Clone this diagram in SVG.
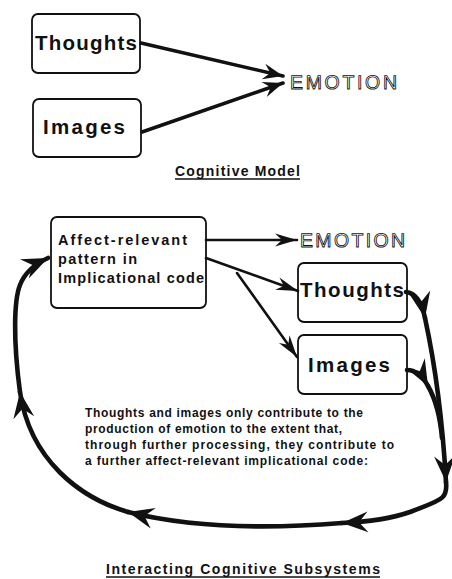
<svg xmlns="http://www.w3.org/2000/svg" width="452" height="579" viewBox="0 0 452 579">
  <style>
    .box { fill: #fff; stroke: #111; stroke-width: 1.8; }
    .lbl { font-family: "Liberation Sans", Arial, sans-serif; font-weight: bold; fill: #111; }
    .big { font-size: 20.5px; }
    .mid { font-size: 14.5px; }
    .small { font-size: 12px; }
    .title { font-size: 14px; }
    .emo { font-family: "Liberation Sans", Arial, sans-serif; font-size: 19.5px; fill: #fff; stroke: #111; stroke-width: 0.85; text-rendering: geometricPrecision; }
    .thick { fill: none; stroke: #111; stroke-width: 3.6; stroke-linecap: round; }
    .thin { fill: none; stroke: #111; stroke-width: 2.6; stroke-linecap: round; }
    .loop { fill: none; stroke: #111; stroke-width: 4.6; stroke-linecap: round; }
    .ul { stroke: #111; stroke-width: 1.4; }
  </style>
  <defs>
    <marker id="barb" markerUnits="userSpaceOnUse" viewBox="-22 -10 23 20" refX="0" refY="0" markerWidth="23" markerHeight="20" orient="auto">
      <path d="M0,0 L-20,-8 L-13,0 L-20,8 Z" fill="#111"/>
    </marker>
    <marker id="barbThin" markerUnits="userSpaceOnUse" viewBox="-24 -8 25 16" refX="0" refY="0" markerWidth="25" markerHeight="16" orient="auto">
      <path d="M0,0 L-22,-6.5 L-15,0 L-22,6.5 Z" fill="#111"/>
    </marker>
    <marker id="barbLoop" markerUnits="userSpaceOnUse" viewBox="-28 -12 29 24" refX="0" refY="0" markerWidth="29" markerHeight="24" orient="auto">
      <path d="M0,0 L-26,-10.5 L-17,0 L-26,10.5 Z" fill="#111"/>
    </marker>
  </defs>

  <!-- Cognitive Model -->
  <g id="thoughts-top">
    <rect class="box" x="32" y="14" width="108" height="59" rx="6"/>
    <text class="lbl big" x="35" y="50" textLength="102" lengthAdjust="spacing">Thoughts</text>
  </g>
  <g id="images-top">
    <rect class="box" x="33" y="99" width="108" height="58" rx="6"/>
    <text class="lbl big" x="43" y="134" textLength="82" lengthAdjust="spacing">Images</text>
  </g>
  <g id="emotion-top">
    <text class="emo" x="290" y="89" textLength="107" lengthAdjust="spacing">EMOTION</text>
  </g>
  <g id="caption-top">
    <text class="lbl title" x="175" y="176" textLength="125" lengthAdjust="spacing">Cognitive Model</text>
    <line class="ul" x1="175" y1="179" x2="300" y2="179"/>
  </g>

  <!-- Interacting Cognitive Subsystems -->
  <g id="affect">
    <rect class="box" x="51" y="217" width="155" height="91" rx="6"/>
    <text class="lbl mid" x="58" y="245" textLength="129" lengthAdjust="spacing">Affect-relevant</text>
    <text class="lbl mid" x="58" y="264" textLength="79" lengthAdjust="spacing">pattern in</text>
    <text class="lbl mid" x="58" y="283" textLength="146" lengthAdjust="spacing">Implicational code</text>
  </g>
  <g id="emotion-bottom">
    <text class="emo" x="300" y="247" textLength="105" lengthAdjust="spacing">EMOTION</text>
  </g>
  <g id="thoughts-bottom">
    <rect class="box" x="298" y="263" width="109" height="59" rx="6"/>
    <text class="lbl big" x="300" y="297" textLength="104" lengthAdjust="spacing">Thoughts</text>
  </g>
  <g id="images-bottom">
    <rect class="box" x="298" y="335" width="109" height="59" rx="6"/>
    <text class="lbl big" x="308" y="372" textLength="82" lengthAdjust="spacing">Images</text>
  </g>
  <g id="note">
    <text class="lbl small" x="85" y="417" textLength="278" lengthAdjust="spacing">Thoughts and images only contribute to the</text>
    <text class="lbl small" x="85" y="433" textLength="257" lengthAdjust="spacing">production of emotion to the extent that,</text>
    <text class="lbl small" x="85" y="449" textLength="309" lengthAdjust="spacing">through further processing, they contribute to</text>
    <text class="lbl small" x="85" y="465" textLength="283" lengthAdjust="spacing">a further affect-relevant implicational code:</text>
  </g>
  <g id="caption-bottom">
    <text class="lbl title" x="106" y="574" textLength="274" lengthAdjust="spacing">Interacting Cognitive Subsystems</text>
    <line class="ul" x1="106" y1="577" x2="380" y2="577"/>
  </g>

  <g id="connectors">
    <!-- upper model -->
    <path class="thick" d="M141,43 L283,76" marker-end="url(#barb)"/>
    <path class="thick" d="M142,132 L283,83" marker-end="url(#barb)"/>
    <!-- implicational code outputs -->
    <path class="thin" d="M206,240 L297,240" marker-end="url(#barbThin)"/>
    <path class="thin" d="M206,258 L298,291" marker-end="url(#barbThin)"/>
    <path class="thin" d="M237,273 L297,357" marker-end="url(#barbThin)"/>
    <!-- feedback loop -->
    <path class="loop" d="M406,292 C416,293 422,303 425,318" marker-end="url(#barbLoop)"/>
    <path class="loop" d="M425,318 C433,355 442,410 446,482" marker-end="url(#barbLoop)"/>
    <path class="loop" d="M407,370 C415,370 422,375 428,386" marker-end="url(#barbLoop)"/>
    <path class="loop" d="M428,386 C436,400 440,415 442,438"/>
    <path class="loop" d="M446,482 C448,500 440,500 410,512 C390,519 365,522 342,523" marker-end="url(#barbLoop)"/>
    <path class="loop" d="M342,523 C280,528 200,530 128,512" marker-end="url(#barbLoop)"/>
    <path class="loop" d="M128,512 C80,498 30,460 20,392" marker-end="url(#barbLoop)"/>
    <path class="loop" d="M20,392 C13,340 14,300 20,285 C25,272 35,264 48,258" marker-end="url(#barbLoop)"/>
  </g>
</svg>
